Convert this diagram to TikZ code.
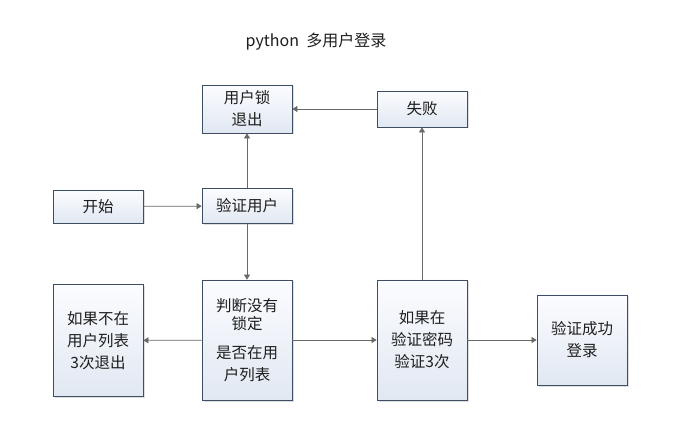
\documentclass[tikz,border=0pt]{standalone}
\usepackage{fontspec}
\setmainfont{Noto Sans CJK SC}
\usetikzlibrary{arrows.meta,shadows}
\definecolor{bordercol}{RGB}{62,78,98}
\definecolor{filltop}{RGB}{251,252,255}
\definecolor{fillbot}{RGB}{225,232,242}
\definecolor{conncol}{RGB}{105,105,105}
\definecolor{txt}{RGB}{30,30,30}
\begin{document}
\begin{tikzpicture}[x=1pt,y=1pt,
  box/.style={draw=bordercol, line width=0.8pt, top color=filltop, bottom color=fillbot,
    drop shadow={shadow xshift=1.5pt,shadow yshift=-1.5pt,opacity=0.25},
    align=center, inner sep=0pt, font=\fontsize{15.5}{22}\selectfont, text=txt},
  conn/.style={draw=conncol, line width=0.7pt, -{Triangle[width=6pt,length=5pt,fill=conncol]}}]
\useasboundingbox[fill=white] (0,0) rectangle (690,431);
\node[font=\fontsize{16}{18}\selectfont, text=txt] (title) at (316,389) {python\ \ 多用户登录};
\node[box, minimum width=90pt, minimum height=48pt] (lock) at (247,322) {用户锁\\退出};
\node[box, minimum width=90pt, minimum height=36pt] (fail) at (422,322) {失败};
\node[box, minimum width=90pt, minimum height=33pt] (start) at (98,224.5) {开始};
\node[box, minimum width=90pt, minimum height=35pt] (verify) at (247,225) {验证用户};
\node[box, minimum width=90pt, minimum height=120pt] (judge) at (247,91) {判断没有\\[-4pt]锁定\\[7pt]是否在用\\户列表};
\node[box, minimum width=90pt, minimum height=112pt] (notin) at (98,90.5) {如果不在\\用户列表\\3次退出};
\node[box, minimum width=90pt, minimum height=120pt] (inlist) at (422,91) {如果在\\验证密码\\验证3次};
\node[box, minimum width=90pt, minimum height=90pt] (ok) at (582,91) {验证成功\\登录};
\draw[conn] (start) -- (verify);
\draw[conn] (verify) -- (lock);
\draw[conn] (verify) -- (judge);
\draw[conn] (judge) -- (notin);
\draw[conn] (judge) -- (inlist);
\draw[conn] (inlist) -- (fail);
\draw[conn] (fail) -- (lock);
\draw[conn] (inlist) -- (ok);
\end{tikzpicture}
\end{document}
